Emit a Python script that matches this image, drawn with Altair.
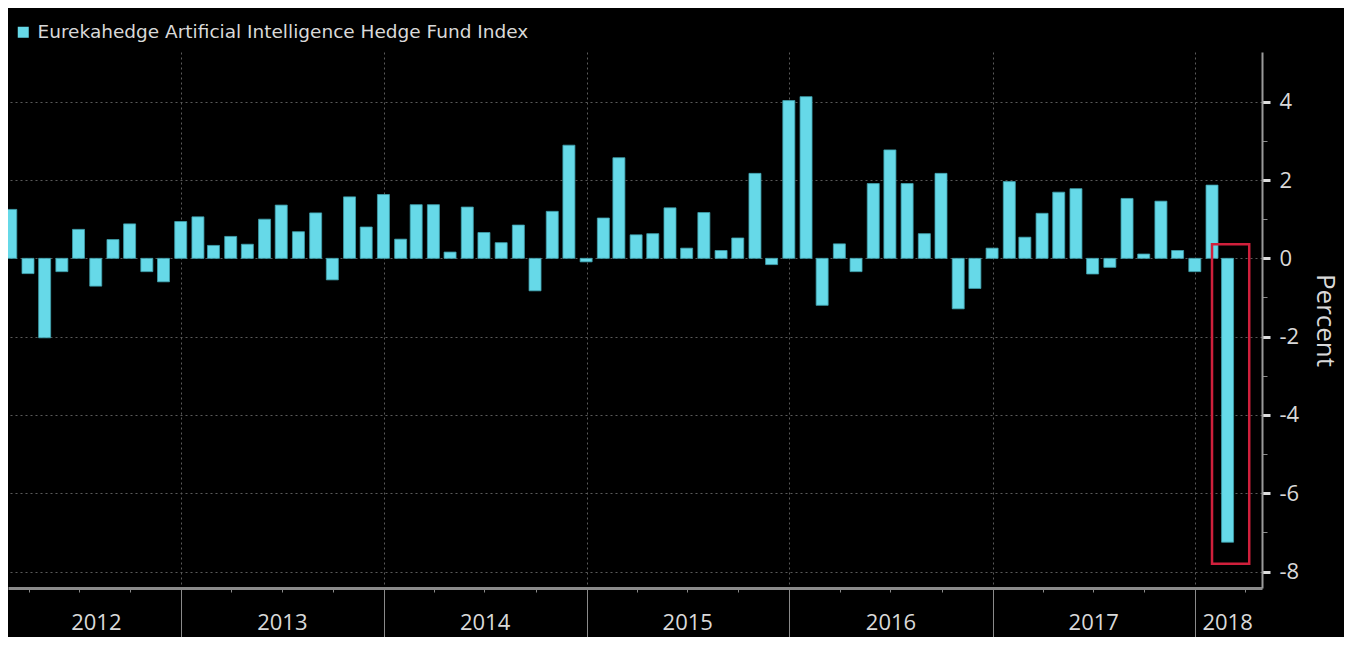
import altair as alt
import pandas as pd

# ---- data -------------------------------------------------------------
SERIES = "Eurekahedge Artificial Intelligence Hedge Fund Index"

# monthly returns (percent), Feb 2012 .. Feb 2018, plotted at month end
values = [
    1.25, -0.39, -2.03, -0.34, 0.74, -0.71, 0.48, 0.88, -0.34, -0.60, 0.94,          # 2012 Feb-Dec
    1.06, 0.33, 0.56, 0.36, 1.00, 1.36, 0.68, 1.16, -0.55, 1.57, 0.80, 1.63,          # 2013
    0.49, 1.37, 1.37, 0.16, 1.31, 0.66, 0.40, 0.85, -0.83, 1.20, 2.89, -0.09,         # 2014
    1.03, 2.57, 0.60, 0.63, 1.29, 0.26, 1.17, 0.20, 0.52, 2.17, -0.16, 4.03,          # 2015
    4.13, -1.20, 0.37, -0.34, 1.91, 2.77, 1.91, 0.63, 2.17, -1.29, -0.77, 0.26,       # 2016
    1.96, 0.54, 1.15, 1.69, 1.78, -0.40, -0.23, 1.53, 0.11, 1.46, 0.20, -0.34,        # 2017
    1.87, -7.25,                                                                      # 2018 Jan-Feb
]
month_ends = [
    (d - pd.Timedelta(days=1)).strftime("%Y-%m-%d")
    for d in pd.date_range("2012-03-01", periods=len(values), freq="MS")
]

year_labels = ["2012", "2013", "2014", "2015", "2016", "2017", "2018"]
year_label_pos = ["2012-08-01", "2013-07-02", "2014-07-02", "2015-07-02",
                  "2016-07-02", "2017-07-02", "2018-02-28"]

# highlight box around the Feb 2018 bar
box_x = ["2018-01-31"]
box_x2 = ["2018-04-08"]
box_y = [0.36]
box_y2 = [-7.80]

y_tick_values = list(range(-8, 5))
x_domain = ["2012-02-24", "2018-05-01"]
y_domain = [-8.42, 5.27]

# ---- helpers ----------------------------------------------------------
def ms(s):
    return int(pd.Timestamp(s, tz="UTC").value // 10**6)

quarter_ticks = [
    ms(f"{y}-{m:02d}-01")
    for y in range(2012, 2019)
    for m in (1, 4, 7, 10)
    if ms(x_domain[0]) < ms(f"{y}-{m:02d}-01") < ms(x_domain[1])
]

df = pd.DataFrame({"date": month_ends, "value": values, "series": SERIES})
years_df = pd.DataFrame({"pos": year_label_pos, "label": year_labels})
box_df = pd.DataFrame({"x0": box_x, "x1": box_x2, "y0": box_y, "y1": box_y2})

FONT = "Open Sans"
CYAN = "#66d9e8"
TXT = "#d9d9d9"
W, H = 1254, 536

x_scale = alt.Scale(type="utc", domain=[ms(x_domain[0]), ms(x_domain[1])], padding=0)
y_scale = alt.Scale(domain=y_domain, nice=False, zero=False, padding=0)

is_jan = "utcmonth(datum.value) == 0"
is_even = "abs(datum.value) % 2 == 0"

x_axis = alt.Axis(
    values=quarter_ticks, labels=False, title=None,
    tickColor="#8a8a8a", tickWidth=1,
    tickSize={"condition": {"test": is_jan, "value": 49}, "value": 4},
    grid=True, gridColor="#5a5a5a", gridDash=[2, 3], gridWidth=1,
    gridOpacity={"condition": {"test": is_jan, "value": 1}, "value": 0},
    domainColor="#8a8a8a", domainWidth=3,
)

y_axis = alt.Axis(
    orient="right", values=y_tick_values,
    labelExpr=f"{is_even} ? '' + datum.value : ''",
    labelFont=FONT, labelFontSize=22, labelColor=TXT, labelPadding=9,
    tickSize={"condition": {"test": is_even, "value": 8}, "value": 5},
    tickWidth={"condition": {"test": is_even, "value": 3}, "value": 1},
    tickColor={"condition": {"test": is_even, "value": "#dddddd"}, "value": "#8a8a8a"},
    grid=True, gridColor="#5a5a5a", gridDash=[2, 3], gridWidth=1,
    gridOpacity={"condition": {"test": is_even, "value": 1}, "value": 0},
    domainColor="#9a9a9a", domainWidth=2,
    title="Percent", titleFont=FONT, titleFontSize=26, titleFontWeight="normal",
    titleColor=TXT, titleAngle=90, titlePadding=13,
)

bars = alt.Chart(df).mark_bar(size=12, stroke="#3f9fac", strokeWidth=0.8).encode(
    x=alt.X("date:T", scale=x_scale, axis=x_axis),
    y=alt.Y("value:Q", scale=y_scale, axis=y_axis),
    color=alt.Color(
        "series:N",
        scale=alt.Scale(range=[CYAN]),
        legend=alt.Legend(
            title=None, orient="none", legendX=6, legendY=-29, direction="horizontal",
            symbolType="square", symbolSize=121, symbolStrokeWidth=0,
            labelFont="DejaVu Sans", labelFontSize=18.5, labelColor=TXT, labelOffset=5,
            labelLimit=0, padding=0,
        ),
    ),
)

box = alt.Chart(box_df).mark_rect(fill="transparent", stroke="#d0203c", strokeWidth=2.5).encode(
    x="x0:T", x2="x1:T", y="y0:Q", y2="y1:Q"
)

years = alt.Chart(years_df).mark_text(
    font=FONT, fontSize=22, color=TXT, baseline="alphabetic", align="center"
).encode(
    x="pos:T",
    y=alt.value(H + 42),
    text="label:N",
)

chart = alt.layer(bars, box, years).properties(
    width=W, height=H,
    padding={"left": 0, "top": 44, "right": 82, "bottom": 49},
    autosize=alt.AutoSizeParams(type="none"),
    background="black",
).configure_view(strokeWidth=0)

chart.save("out.html", embed_options={"renderer": "svg", "actions": False})
